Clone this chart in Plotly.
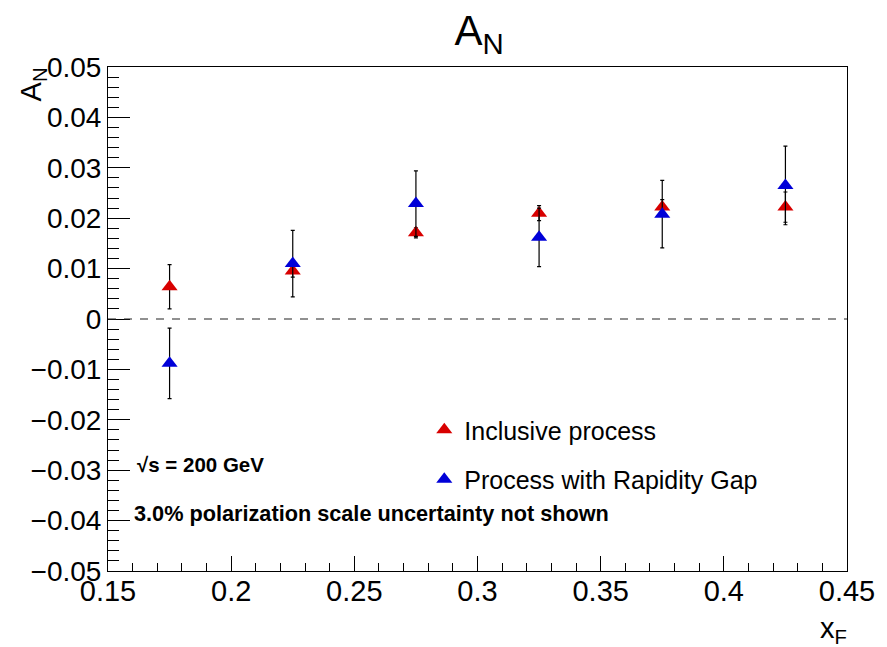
import plotly.graph_objects as go

# ---- data ----
xf = [0.175, 0.225, 0.275, 0.325, 0.375, 0.425]
an_incl = [0.0064, 0.0095, 0.0171, 0.0210, 0.0222, 0.0222]
err_incl = [0.0044, 0.0012, 0.0010, 0.0015, 0.0015, 0.0030]
an_gap = [-0.0088, 0.0110, 0.0229, 0.0162, 0.0208, 0.0265]
err_gap = [0.0070, 0.0066, 0.0065, 0.0058, 0.0067, 0.0078]

xtick_vals = [0.15, 0.2, 0.25, 0.3, 0.35, 0.4, 0.45]
xtick_text = ["0.15", "0.2", "0.25", "0.3", "0.35", "0.4", "0.45"]
ytick_vals = [-0.05, -0.04, -0.03, -0.02, -0.01, 0, 0.01, 0.02, 0.03, 0.04, 0.05]
ytick_text = ["\u22120.05", "\u22120.04", "\u22120.03", "\u22120.02", "\u22120.01", "0",
              "0.01", "0.02", "0.03", "0.04", "0.05"]

FONT = "Liberation Sans, Arial, Helvetica, sans-serif"
RED = "#d80000"
BLUE = "#0000d8"

fig = go.Figure()
fig.add_trace(go.Scatter(
    x=xf, y=an_incl, mode="markers", name="Inclusive process",
    legendgroup="a",
    marker=dict(symbol="triangle-up", size=14, color=RED, line=dict(width=0)),
    error_y=dict(type="data", array=err_incl, color="black", thickness=1.2, width=2),
))
fig.add_trace(go.Scatter(
    x=xf, y=an_gap, mode="markers", name="Process with Rapidity Gap",
    legendgroup="b",
    marker=dict(symbol="triangle-up", size=14, color=BLUE, line=dict(width=0)),
    error_y=dict(type="data", array=err_gap, color="black", thickness=1.2, width=2),
))

fig.add_shape(type="line", xref="paper", x0=0, x1=1, yref="y", y0=0, y1=0,
              line=dict(color="#222222", width=1.2, dash="8px,8px"))

W, H = 887, 647
L, R, T, B = 108, 36, 67, 76
pw, ph = W - L - R, H - T - B

def px_x(px):
    return (px - L) / pw

def px_y(py):
    return (H - B - py) / ph

fig.update_layout(
    width=W, height=H,
    margin=dict(l=L, r=R, t=T, b=B),
    paper_bgcolor="white", plot_bgcolor="white",
    font=dict(family=FONT, color="black"),
    title=dict(text="A<sub>N</sub>", font=dict(size=42, family=FONT, color="black"),
               x=479 / W, xanchor="center", y=1 - 30 / H, yanchor="middle"),
    showlegend=True,
    legend=dict(x=px_x(426), y=px_y(407), xanchor="left", yanchor="top",
                font=dict(size=25, family=FONT), bgcolor="rgba(0,0,0,0)",
                traceorder="grouped", tracegroupgap=14, itemsizing="trace"),
    xaxis=dict(range=[0.15, 0.45], showgrid=False, zeroline=False,
               showline=True, linecolor="black", linewidth=1, mirror=True,
               ticks="inside", ticklen=15, tickcolor="black", tickwidth=1,
               tickvals=xtick_vals, ticktext=xtick_text, ticklabelstandoff=-6,
               tickfont=dict(size=29, family=FONT, color="black"),
               minor=dict(ticks="inside", ticklen=8, dtick=0.01, tickcolor="black", tickwidth=1)),
    yaxis=dict(range=[-0.05, 0.05], showgrid=False, zeroline=False,
               showline=True, linecolor="black", linewidth=1, mirror=True,
               ticks="inside", ticklen=22, tickcolor="black", tickwidth=1,
               tickvals=ytick_vals, ticktext=ytick_text,
               tickfont=dict(size=28, family=FONT, color="black"),
               minor=dict(ticks="inside", ticklen=11, dtick=0.002, tickcolor="black", tickwidth=1)),
)

fig.add_annotation(text="A<sub>N</sub>", textangle=-90, xref="paper", yref="paper",
                   x=px_x(33), y=px_y(84), xanchor="center", yanchor="middle",
                   showarrow=False, font=dict(size=29, family=FONT, color="black"))
fig.add_annotation(text="x<sub>F</sub>", xref="paper", yref="paper",
                   x=px_x(853), y=px_y(630), xanchor="right", yanchor="middle",
                   showarrow=False, font=dict(size=29, family=FONT, color="black"))
fig.add_annotation(text="<b>\u221as = 200 GeV</b>", xref="paper", yref="paper",
                   x=px_x(135), y=px_y(464), xanchor="left", yanchor="middle",
                   showarrow=False, font=dict(size=20.5, family=FONT, color="black"))
fig.add_annotation(text="<b>3.0% polarization scale uncertainty not shown</b>", xref="paper", yref="paper",
                   x=px_x(132), y=px_y(513), xanchor="left", yanchor="middle",
                   showarrow=False, font=dict(size=21.7, family=FONT, color="black"))

fig.write_html("out.html")
